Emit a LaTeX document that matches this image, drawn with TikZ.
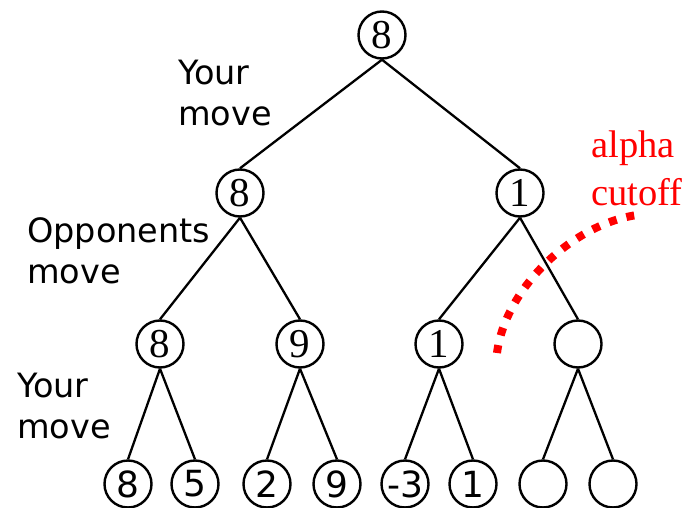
\documentclass[tikz,border=0pt]{standalone}
\usepackage{fontspec}
\setmainfont{Liberation Serif}
\newfontfamily\labelfont{DejaVu Sans}
\begin{document}
\begin{tikzpicture}[x=1pt,y=-1pt,
  treenode/.style={circle,draw,line width=2.4pt,minimum size=47pt,inner sep=0pt,font=\fontsize{41}{44}\selectfont},
  leafnode/.style={treenode,font=\labelfont\fontsize{36}{40}\selectfont},
  edge/.style={line width=2.3pt},
  lbl/.style={anchor=base west,inner sep=0pt,align=left,font=\labelfont\fontsize{33.5}{41}\selectfont},
  cutlbl/.style={anchor=base west,inner sep=0pt,align=left,text=red,font=\fontsize{38.5}{48}\selectfont},
  cutline/.style={red,line width=8pt,dash pattern=on 8pt off 10pt}]
\useasboundingbox (0,0) rectangle (685,508);
\node[treenode] (r) at (382,35) {8};
\node[treenode] (a) at (240,193) {8};
\node[treenode] (b) at (520,193) {1};
\node[treenode] (aa) at (160,344) {8};
\node[treenode] (ab) at (300,344) {9};
\node[treenode] (ba) at (439,344) {1};
\node[treenode] (bb) at (578,344) {};
\node[leafnode] (l1) at (128,484) {8};
\node[leafnode] (l2) at (195,484) {5};
\node[leafnode] (l3) at (267,484) {2};
\node[leafnode] (l4) at (337,484) {9};
\node[leafnode] (l5) at (405,484) {-3};
\node[leafnode] (l6) at (473,484) {1};
\node[leafnode] (l7) at (543,484) {};
\node[leafnode] (l8) at (613,484) {};
\foreach \p/\c in {r/a,r/b,a/aa,a/ab,b/ba,b/bb,aa/l1,aa/l2,ab/l3,ab/l4,ba/l5,ba/l6,bb/l7,bb/l8}
  \draw[edge] (\p.south) -- (\c.north);
\node[lbl] (t1) at (178,126) {Your\\move};
\node[lbl] (t2) at (27,283) {Opponents\\move};
\node[lbl] (t3) at (17,438) {Your\\move};
\node[cutlbl] (t4) at (591,205) {alpha\\cutoff};
\coordinate (c1) at (497,353);
\coordinate (c2) at (637,215);
\draw[cutline] (c1) .. controls (505,290) and (570,225) .. (c2);
\end{tikzpicture}
\end{document}
